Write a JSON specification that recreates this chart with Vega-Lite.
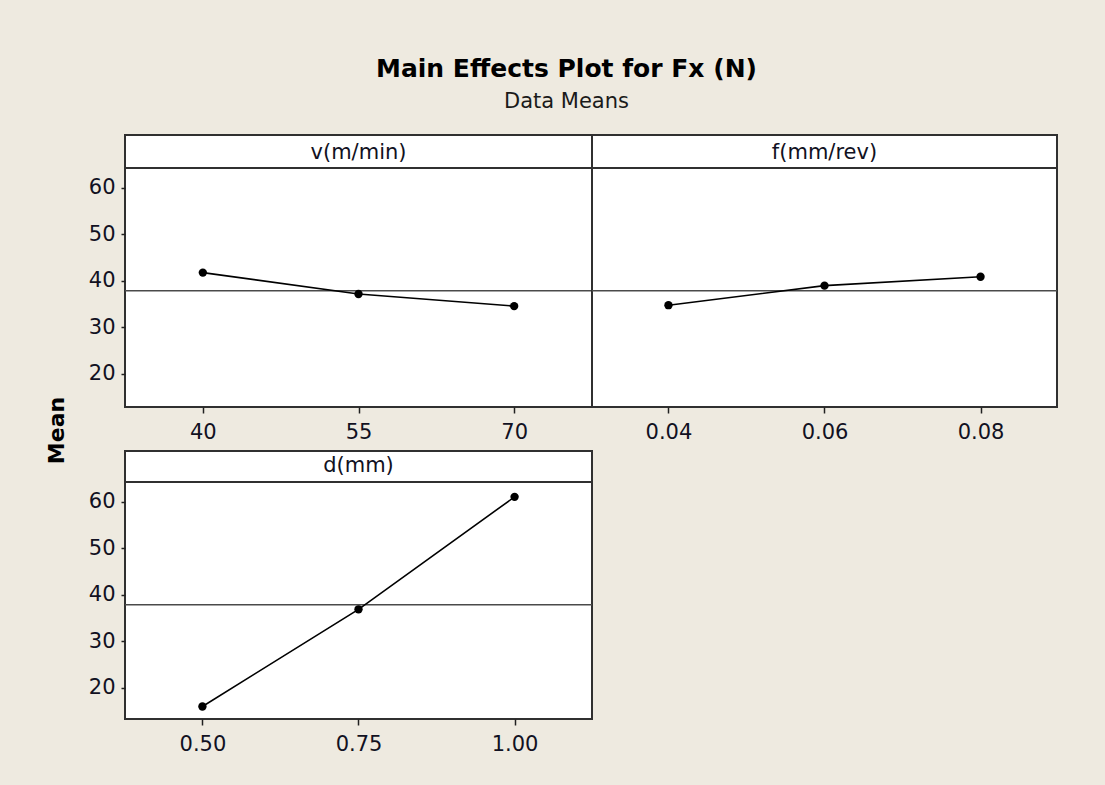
{
  "$schema": "https://vega.github.io/schema/vega-lite/v6.json",
  "background": "#EEEAE0",
  "padding": {"left": 44, "top": 57, "right": 47, "bottom": 31},
  "title": {
    "text": "Main Effects Plot for Fx (N)",
    "subtitle": "Data Means",
    "anchor": "middle",
    "font": "DejaVu Sans",
    "fontSize": 25,
    "fontWeight": "bold",
    "color": "#000000",
    "subtitleFont": "DejaVu Sans",
    "subtitleFontSize": 21,
    "subtitleColor": "#1a1a1a",
    "subtitlePadding": 9,
    "offset": 22,
    "dx": 15
  },
  "datasets": {
    "effects": [
      {"factor": "v(m/min)", "level": 40, "mean": 41.8},
      {"factor": "v(m/min)", "level": 55, "mean": 37.2},
      {"factor": "v(m/min)", "level": 70, "mean": 34.6},
      {"factor": "f(mm/rev)", "level": 0.04, "mean": 34.8},
      {"factor": "f(mm/rev)", "level": 0.06, "mean": 39.0},
      {"factor": "f(mm/rev)", "level": 0.08, "mean": 40.9},
      {"factor": "d(mm)", "level": 0.5, "mean": 16.0},
      {"factor": "d(mm)", "level": 0.75, "mean": 36.9},
      {"factor": "d(mm)", "level": 1.0, "mean": 61.1}
    ],
    "grand": [{"grandMean": 37.9}]
  },
  "columns": 2,
  "bounds": "flush",
  "spacing": {"row": 44, "column": 0},
  "concat": [
    {
      "width": 467,
      "height": 272,
      "title": {"text": "v(m/min)", "offset": -45, "baseline": "alphabetic", "frame": "group", "anchor": "middle"},
      "layer": [
        {
          "data": {"name": "grand"},
          "mark": {"type": "rule", "color": "#303030", "strokeWidth": 2},
          "encoding": {"y": {"datum": 64.3, "type": "quantitative", "scale": {"domain": [12.9, 64.3], "range": [272, 33], "nice": false, "zero": false}, "axis": {"values": [20, 30, 40, 50, 60], "title": "Mean", "titleX": -69, "titleY": 295, "titleAngle": 270, "titleAlign": "center", "titleBaseline": "middle"}}}
        },
        {
          "data": {"name": "grand"},
          "mark": {"type": "rule", "color": "#4a4a4a", "strokeWidth": 1.5},
          "encoding": {"y": {"field": "grandMean", "type": "quantitative", "axis": {"values": [20, 30, 40, 50, 60], "title": "Mean", "titleX": -69, "titleY": 295, "titleAngle": 270, "titleAlign": "center", "titleBaseline": "middle"}}}
        },
        {
          "data": {"name": "effects"},
          "transform": [{"filter": "datum.factor === 'v(m/min)'"}],
          "mark": {"type": "line", "color": "#000000", "strokeWidth": 1.6, "point": {"filled": true, "size": 70, "color": "#000000", "opacity": 1}},
          "encoding": {
            "x": {"field": "level", "type": "quantitative", "scale": {"domain": [32.5, 77.5], "nice": false, "zero": false}, "axis": {"values": [40, 55, 70], "format": "d", "title": null}},
            "y": {"field": "mean", "type": "quantitative", "axis": {"values": [20, 30, 40, 50, 60], "title": "Mean", "titleX": -69, "titleY": 295, "titleAngle": 270, "titleAlign": "center", "titleBaseline": "middle"}}
          }
        }
      ]
    },
    {
      "width": 465,
      "height": 272,
      "title": {"text": "f(mm/rev)", "offset": -45, "baseline": "alphabetic", "frame": "group", "anchor": "middle"},
      "layer": [
        {
          "data": {"name": "grand"},
          "mark": {"type": "rule", "color": "#303030", "strokeWidth": 2},
          "encoding": {"y": {"datum": 64.3, "type": "quantitative", "scale": {"domain": [12.9, 64.3], "range": [272, 33], "nice": false, "zero": false}, "axis": null}}
        },
        {
          "data": {"name": "grand"},
          "mark": {"type": "rule", "color": "#4a4a4a", "strokeWidth": 1.5},
          "encoding": {"y": {"field": "grandMean", "type": "quantitative", "axis": null}}
        },
        {
          "data": {"name": "effects"},
          "transform": [{"filter": "datum.factor === 'f(mm/rev)'"}],
          "mark": {"type": "line", "color": "#000000", "strokeWidth": 1.6, "point": {"filled": true, "size": 70, "color": "#000000", "opacity": 1}},
          "encoding": {
            "x": {"field": "level", "type": "quantitative", "scale": {"domain": [0.0302, 0.0898], "nice": false, "zero": false}, "axis": {"values": [0.04, 0.06, 0.08], "format": ".2f", "title": null}},
            "y": {"field": "mean", "type": "quantitative", "axis": null}
          }
        }
      ]
    },
    {
      "width": 467,
      "height": 268,
      "title": {"text": "d(mm)", "offset": -42, "baseline": "alphabetic", "frame": "group", "anchor": "middle"},
      "layer": [
        {
          "data": {"name": "grand"},
          "mark": {"type": "rule", "color": "#303030", "strokeWidth": 2},
          "encoding": {"y": {"datum": 64.3, "type": "quantitative", "scale": {"domain": [13.3, 64.3], "range": [268, 31], "nice": false, "zero": false}, "axis": {"values": [20, 30, 40, 50, 60], "title": null}}}
        },
        {
          "data": {"name": "grand"},
          "mark": {"type": "rule", "color": "#4a4a4a", "strokeWidth": 1.5},
          "encoding": {"y": {"field": "grandMean", "type": "quantitative", "axis": {"values": [20, 30, 40, 50, 60], "title": null}}}
        },
        {
          "data": {"name": "effects"},
          "transform": [{"filter": "datum.factor === 'd(mm)'"}],
          "mark": {"type": "line", "color": "#000000", "strokeWidth": 1.6, "point": {"filled": true, "size": 70, "color": "#000000", "opacity": 1}},
          "encoding": {
            "x": {"field": "level", "type": "quantitative", "scale": {"domain": [0.376, 1.124], "nice": false, "zero": false}, "axis": {"values": [0.5, 0.75, 1.0], "format": ".2f", "title": null}},
            "y": {"field": "mean", "type": "quantitative", "axis": {"values": [20, 30, 40, 50, 60], "title": null}}
          }
        }
      ]
    }
  ],
  "config": {
    "font": "DejaVu Sans",
    "view": {"fill": "#FFFFFF", "stroke": "#303030", "strokeWidth": 2},
    "axis": {
      "domain": false,
      "grid": false,
      "ticks": true,
      "tickColor": "#202020",
      "tickWidth": 1.5,
      "labelColor": "#111122",
      "labelFont": "DejaVu Sans",
      "labelFontSize": 21,
      "titleFont": "DejaVu Sans",
      "titleFontSize": 22,
      "titleFontWeight": "bold",
      "titleColor": "#000000"
    },
    "axisX": {"tickSize": 6, "labelPadding": 8},
    "axisY": {"tickSize": 4, "labelPadding": 6},
    "title": {"font": "DejaVu Sans", "fontSize": 21, "fontWeight": "normal", "color": "#111122"}
  }
}
